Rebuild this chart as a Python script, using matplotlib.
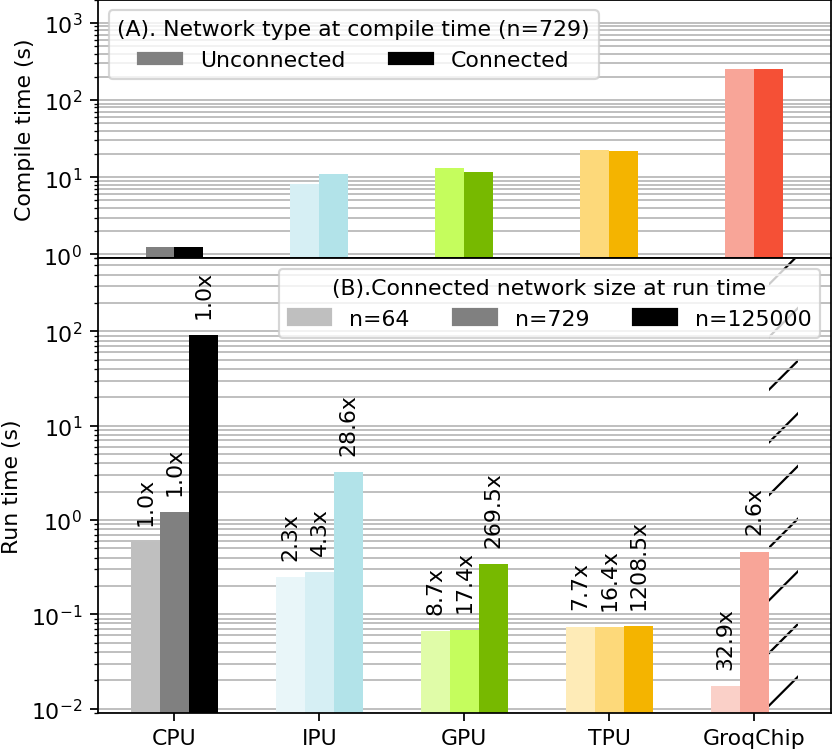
import matplotlib
matplotlib.use("Agg")
import matplotlib.pyplot as plt
from matplotlib.patches import Patch
import numpy as np

# chips on the x axis
chips = ['CPU', 'IPU', 'GPU', 'TPU', 'GroqChip']

# (A) compile time, n=729
compile_unconnected = [1.25, 8.2, 13.1, 22.4, 249]
compile_connected = [1.25, 11.0, 11.6, 22.0, 249]

# (B) run time for the connected network
run_n64 = [0.579, 0.246, 0.0658, 0.0736, 0.01725]
run_n729 = [1.21, 0.278, 0.069, 0.0731, 0.46]
run_n125000 = [90.7, 3.21, 0.338, 0.0748]          # no GroqChip value

speedup_n64 = ['1.0x', '2.3x', '8.7x', '7.7x', '32.9x']
speedup_n729 = ['1.0x', '4.3x', '17.4x', '16.4x', '2.6x']
speedup_n125000 = ['1.0x', '28.6x', '269.5x', '1208.5x']

# colour per chip: (n=64, n=729 / unconnected, n=125000 / connected)
colors_light = ['#bfbfbf', '#e9f6f9', '#e0fca8', '#feebb7', '#fad0c8']
colors_mid = ['#808080', '#d6eff4', '#c5fd5d', '#fdd97a', '#f8a598']
colors_dark = ['#000000', '#b2e3e9', '#77b900', '#f4b400', '#f55036']

DPI = 158
plt.rcParams['font.size'] = 10

fig = plt.figure(figsize=(832 / DPI, 751 / DPI), dpi=DPI)
ax1 = fig.add_axes([0.1174, 0.6551, 0.8814, 0.3442])
ax2 = fig.add_axes([0.1174, 0.0493, 0.8814, 0.6058], sharex=ax1)

x = np.arange(len(chips))
w = 0.2

# ---- top: compile time
ax1.bar(x - w / 2, compile_unconnected, w, color=colors_mid)
ax1.bar(x + w / 2, compile_connected, w, color=colors_dark)
ax1.set_yscale('log')
ax1.set_ylim(0.9, 2000)
ax1.set_ylabel('Compile time (s)')
ax1.set_axisbelow(True)
ax1.grid(True, which='both', axis='y', color='#b8b8b8', linewidth=0.8)
ax1.tick_params(axis='x', which='both', bottom=False, labelbottom=False)

# legend handles in grey/black
h_unc = Patch(color='#808080')
h_con = Patch(color='#000000')
ax1.legend([h_unc, h_con], ['Unconnected', 'Connected'], ncol=2,
           loc='upper left', title='(A). Network type at compile time (n=729)',
           handleheight=0.4)

# ---- bottom: run time
b64 = ax2.bar(x - w, run_n64, w, color=colors_light)
b729 = ax2.bar(x, run_n729, w, color=colors_mid)
b125 = ax2.bar(x[:len(run_n125000)] + w, run_n125000, w,
               color=colors_dark[:len(run_n125000)])
# GroqChip has no n=125000 run: hatched placeholder
ax2.bar(x[-1] + w, 1e4, w, fill=False, hatch='/', edgecolor='black',
        linewidth=0, zorder=0)

for bars, labels in [(b64, speedup_n64), (b729, speedup_n729),
                     (b125, speedup_n125000)]:
    for rect, lab in zip(bars, labels):
        ax2.annotate(lab, (rect.get_x() + rect.get_width() / 2, rect.get_height()),
                     xytext=(0, 8), textcoords='offset points',
                     rotation=90, ha='center', va='bottom')

ax2.set_yscale('log')
ax2.set_ylim(0.009, 600)
ax2.set_ylabel('Run time (s)')
ax2.set_axisbelow(True)
ax2.grid(True, which='both', axis='y', color='#b8b8b8', linewidth=0.8)
ax2.set_xticks(x)
ax2.set_xticklabels(chips)

h64 = Patch(color='#bfbfbf')
h729 = Patch(color='#808080')
h125 = Patch(color='#000000')
ax2.legend([h64, h729, h125], ['n=64', 'n=729', 'n=125000'], ncol=3,
           loc='upper right', title='(B).Connected network size at run time')

fig.align_ylabels([ax1, ax2])
fig.savefig('out.png', dpi=DPI)
